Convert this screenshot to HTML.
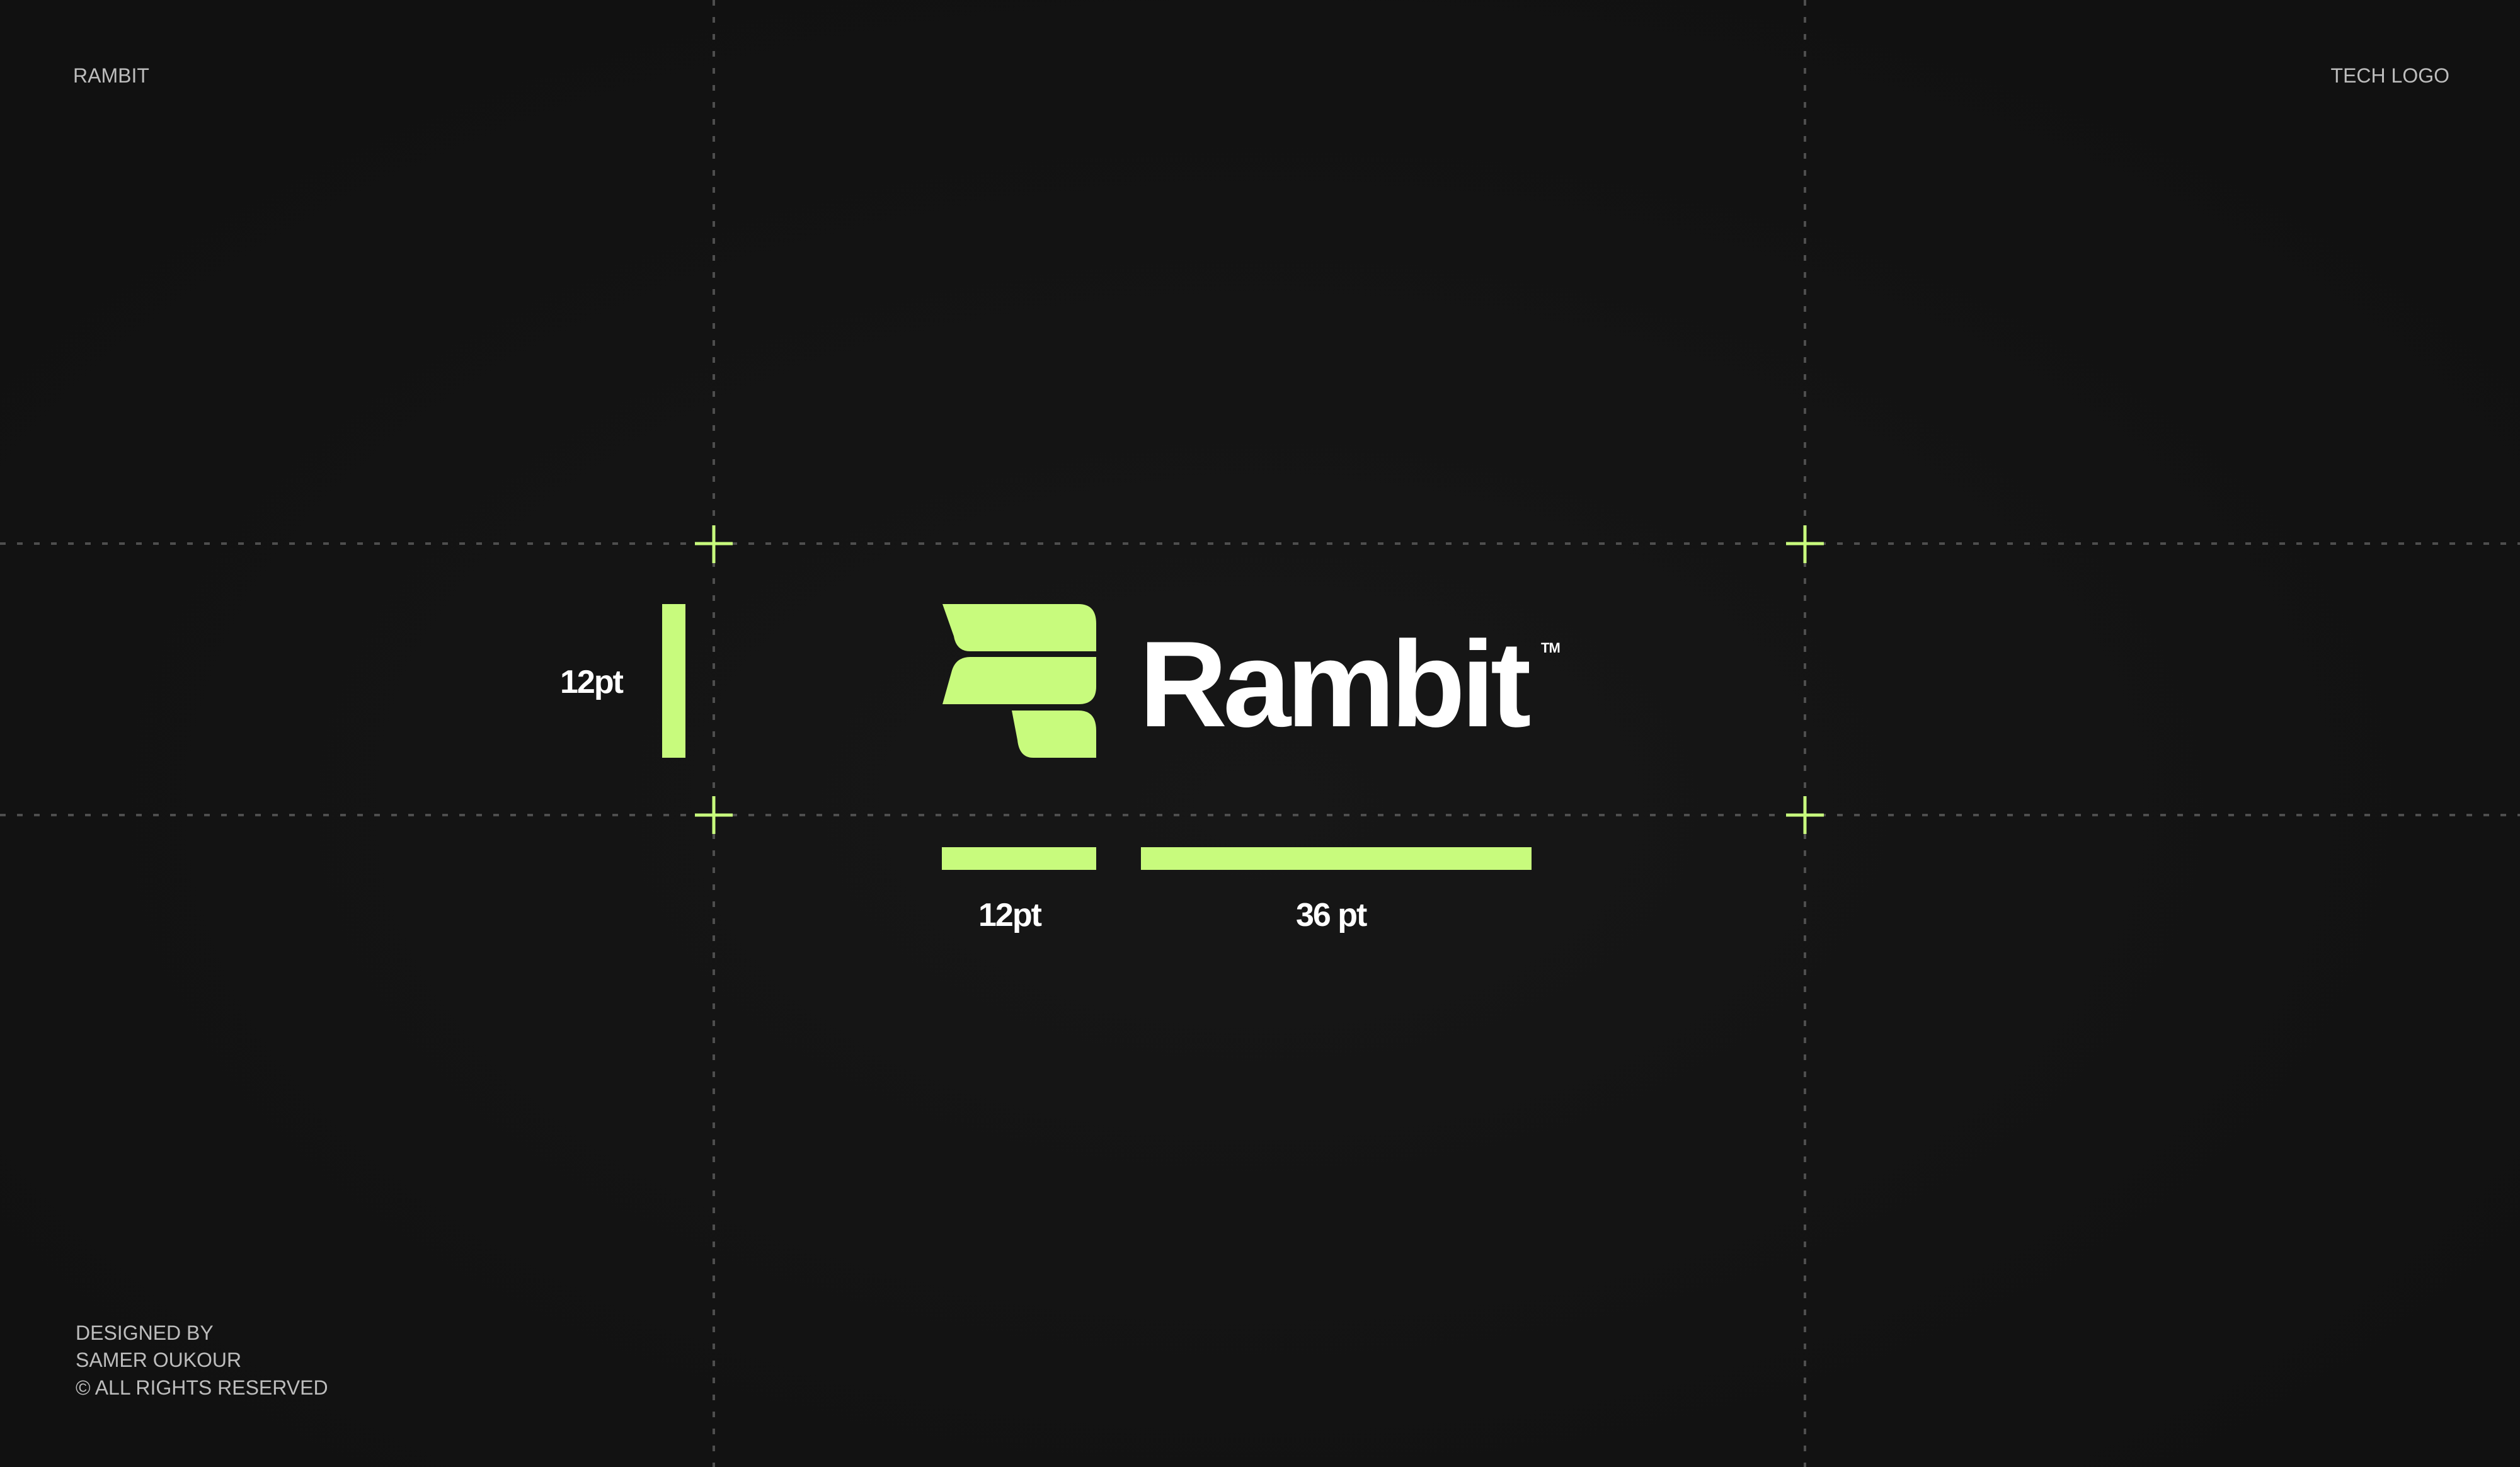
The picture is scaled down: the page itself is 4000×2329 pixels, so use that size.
<!DOCTYPE html>
<html><head><meta charset="utf-8"><style>
html,body{margin:0;padding:0;background:#121212;}
body{width:4000px;height:2329px;overflow:hidden;position:relative;font-family:"Liberation Sans",sans-serif;}
</style></head><body>
<svg width="4000" height="2329" viewBox="0 0 4000 2329" xmlns="http://www.w3.org/2000/svg" style="position:absolute;left:0;top:0">
<defs>
<radialGradient id="bg" cx="0.5" cy="0.55" r="0.6">
<stop offset="0" stop-color="#171717"/><stop offset="1" stop-color="#111111"/>
</radialGradient>
</defs>
<rect width="4000" height="2329" fill="url(#bg)"/>
<g stroke="#4e4e4e" stroke-width="4" stroke-dasharray="9 18">
<line x1="1133" y1="0" x2="1133" y2="2329"/>
<line x1="2865" y1="0" x2="2865" y2="2329"/>
<line x1="0" y1="863" x2="4000" y2="863"/>
<line x1="0" y1="1294" x2="4000" y2="1294"/>
</g>
<g stroke="#c8fb7d" stroke-width="5">
<line x1="1103" y1="863" x2="1163" y2="863"/><line x1="1133" y1="834" x2="1133" y2="894"/>
<line x1="2835" y1="863" x2="2895" y2="863"/><line x1="2865" y1="834" x2="2865" y2="894"/>
<line x1="1103" y1="1294" x2="1163" y2="1294"/><line x1="1133" y1="1264" x2="1133" y2="1324"/>
<line x1="2835" y1="1294" x2="2895" y2="1294"/><line x1="2865" y1="1264" x2="2865" y2="1324"/>
</g>
<g fill="#c8fb7d">
<rect x="1051" y="959" width="37" height="244"/>
<rect x="1495" y="1345" width="245" height="36"/>
<rect x="1811" y="1345" width="620" height="36"/>
<path d="M1496 959 H1712 Q1740 959 1740 990 V1034 H1540 Q1518 1034 1514 1010 Z"/>
<path d="M1540 1043 H1740 V1090 Q1740 1118 1712 1118 H1496 L1510 1068 Q1516 1043 1540 1043 Z"/>
<path d="M1606 1128 H1712 Q1740 1128 1740 1160 V1203 H1640 Q1618 1203 1615 1175 Z"/>
</g>
<g font-family="Liberation Sans, sans-serif" font-weight="bold" fill="#ffffff">
<text x="1808" y="1153" font-size="194" letter-spacing="-7">Rambit</text>
<text x="2446" y="1036" font-size="22" letter-spacing="-1">TM</text>
<text x="889" y="1100" font-size="52" letter-spacing="-2">12pt</text>
<text x="1553" y="1470" font-size="52" letter-spacing="-2">12pt</text>
<text x="2057" y="1470" font-size="52" letter-spacing="-2">36 pt</text>
</g>
<g font-family="Liberation Sans, sans-serif" fill="#bdbdbd" font-size="32">
<text x="116" y="131">RAMBIT</text>
<text x="3888" y="131" text-anchor="end">TECH LOGO</text>
<text x="120" y="2127">DESIGNED BY</text>
<text x="120" y="2170">SAMER OUKOUR</text>
<text x="120" y="2214">© ALL RIGHTS RESERVED</text>
</g>
</svg>
</body></html>
